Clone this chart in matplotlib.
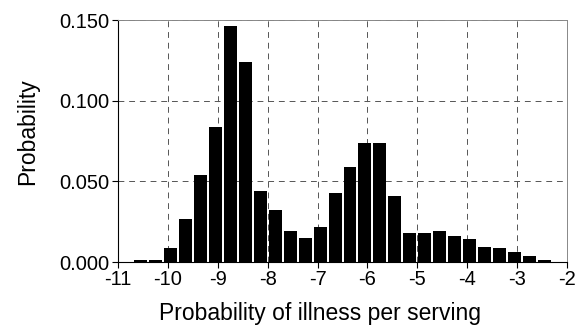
import matplotlib.pyplot as plt
import numpy as np

plt.rcParams['font.family'] = ['Liberation Sans', 'DejaVu Sans']
plt.rcParams['axes.unicode_minus'] = False

# log10 probability of illness per serving, bin centres (bins 0.3 wide)
bin_centers = [-10.55, -10.25, -9.95, -9.65, -9.35, -9.05, -8.75, -8.45,
               -8.15, -7.85, -7.55, -7.25, -6.95, -6.65, -6.35, -6.05,
               -5.75, -5.45, -5.15, -4.85, -4.55, -4.25, -3.95, -3.65,
               -3.35, -3.05, -2.75, -2.45]
probability = [0.001, 0.0015, 0.009, 0.027, 0.054, 0.084, 0.146, 0.124,
               0.044, 0.032, 0.019, 0.015, 0.022, 0.043, 0.059, 0.074,
               0.074, 0.041, 0.018, 0.018, 0.019, 0.016, 0.014, 0.0095,
               0.0085, 0.0065, 0.0037, 0.001]
x_ticks = [-11, -10, -9, -8, -7, -6, -5, -4, -3, -2]
y_ticks = [0.0, 0.05, 0.10, 0.15]

fig = plt.figure(figsize=(5.87, 3.28), dpi=100)
ax = fig.add_axes([0.201, 0.201, 0.765, 0.738])

ax.bar(bin_centers, probability, width=0.26, color='black', zorder=3)

ax.set_xlim(-11, -2)
ax.set_ylim(0, 0.15)
ax.set_xticks(x_ticks)
ax.set_xticklabels([str(t) for t in x_ticks])
ax.set_yticks(y_ticks)
ax.set_yticklabels([f'{t:.3f}' for t in y_ticks])
ax.tick_params(labelsize=14.5, direction='out', length=4, width=0.8, pad=2)

ax.grid(True, linestyle=(0, (6, 5)), color='#555555', linewidth=0.7, zorder=0)
for side in ['top', 'right']:
    ax.spines[side].set_color('#888888')
    ax.spines[side].set_linewidth(0.7)

ax.set_xlabel('Probability of illness per serving', fontsize=16.5)
ax.set_ylabel('Probability', fontsize=16.5)
ax.xaxis.set_label_coords(0.45, -0.165)
ax.yaxis.set_label_coords(-0.176, 0.537)

fig.savefig('out.png', dpi=100)
